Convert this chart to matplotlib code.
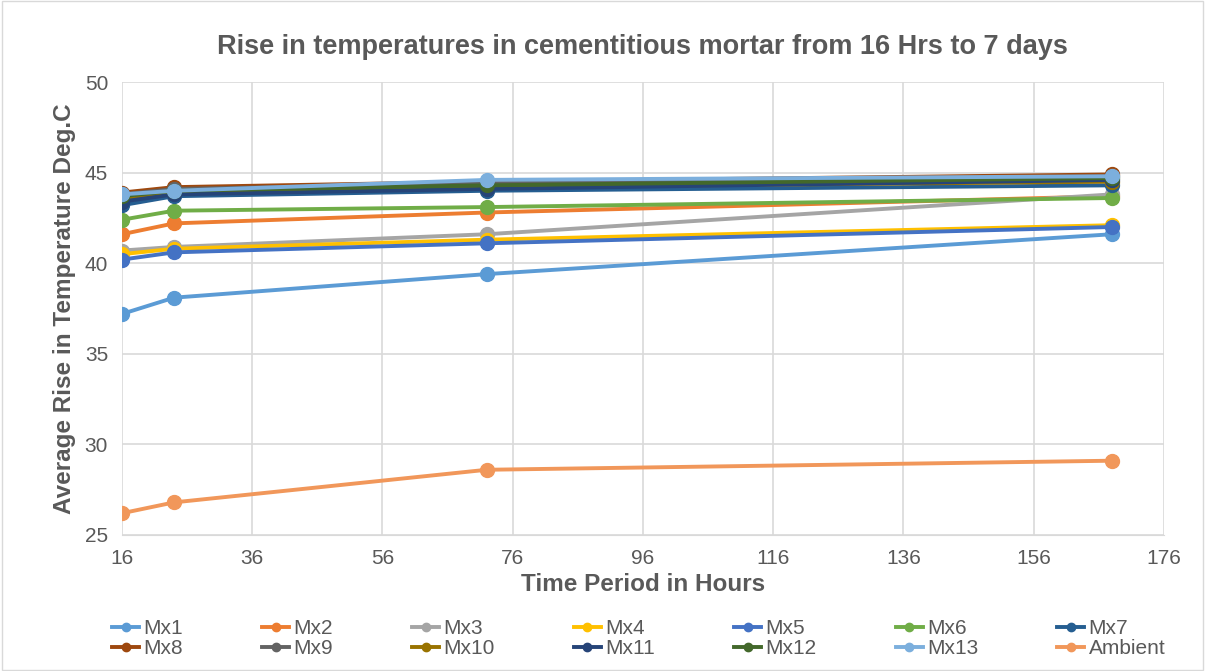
import matplotlib.pyplot as plt
from matplotlib.patches import Rectangle

plt.rcParams['font.family'] = ['Liberation Sans', 'DejaVu Sans']

hours = [16, 24, 72, 168]
series = ["Mx1", "Mx2", "Mx3", "Mx4", "Mx5", "Mx6", "Mx7",
          "Mx8", "Mx9", "Mx10", "Mx11", "Mx12", "Mx13", "Ambient"]
mx1 = [37.2, 38.1, 39.4, 41.6]
mx2 = [41.6, 42.2, 42.8, 43.7]
mx3 = [40.7, 40.9, 41.6, 43.8]
mx4 = [40.5, 40.8, 41.3, 42.1]
mx5 = [40.2, 40.6, 41.1, 42.0]
mx6 = [42.4, 42.9, 43.1, 43.6]
mx7 = [43.2, 43.7, 44.0, 44.3]
mx8 = [43.9, 44.2, 44.5, 44.9]
mx9 = [43.8, 44.1, 44.4, 44.8]
mx10 = [43.5, 43.9, 44.2, 44.5]
mx11 = [43.4, 43.8, 44.1, 44.6]
mx12 = [43.7, 44.0, 44.3, 44.7]
mx13 = [43.8, 44.0, 44.6, 44.8]
ambient = [26.2, 26.8, 28.6, 29.1]
values = [mx1, mx2, mx3, mx4, mx5, mx6, mx7, mx8, mx9, mx10, mx11, mx12, mx13, ambient]

colors = ["#5B9BD5", "#ED7D31", "#A5A5A5", "#FFC000", "#4472C4", "#70AD47", "#255E91",
          "#9E480E", "#636363", "#997300", "#264478", "#43682B", "#7CAFDD", "#F1975A"]

fig = plt.figure(figsize=(12.05, 6.71), dpi=100)
fig.patches.append(Rectangle((0.002, 0.002), 0.996, 0.996, transform=fig.transFigure,
                             fill=False, edgecolor="#D9D9D9", linewidth=1))
ax = fig.add_axes([0.1012, 0.2027, 0.8647, 0.675])

handles = []
for name, vals, c in zip(series, values, colors):
    h, = ax.plot(hours, vals, color=c, linewidth=2.8, marker="o", markersize=10, label=name)
    handles.append(h)

ax.set_xlim(16, 176)
ax.set_ylim(25, 50)
ax.set_xticks(range(16, 177, 20))
ax.set_yticks(range(25, 51, 5))
ax.grid(True, color="#D9D9D9", linewidth=1.2)
ax.set_axisbelow(True)
for s in ["top", "right", "left"]:
    ax.spines[s].set_visible(False)
ax.spines["bottom"].set_color("#D9D9D9")
ax.tick_params(length=0, labelsize=15, colors="#595959", pad=10)

ax.set_title("Rise in temperatures in cementitious mortar from 16 Hrs to 7 days",
             fontsize=19.5, fontweight="bold", color="#595959", pad=20)
ax.set_ylabel("Average Rise in Temperature Deg.C", fontsize=17.5, fontweight="bold",
              color="#595959", labelpad=6)
ax.set_xlabel("Time Period in Hours", fontsize=17.5, fontweight="bold",
              color="#595959", labelpad=4)

# legend filled row by row, like the original
ncol = 7
order = [r * ncol + c for c in range(ncol) for r in range(2)]
fig.legend([handles[i] for i in order], [series[i] for i in order],
           loc="lower center", bbox_to_anchor=(0.53, 0.0), ncol=ncol, frameon=False,
           fontsize=15, labelcolor="#595959", handlelength=1.3, columnspacing=3.8,
           handletextpad=0.2, markerscale=0.6, borderaxespad=0.2, labelspacing=0.05)

fig.savefig("out.png", dpi=100)
